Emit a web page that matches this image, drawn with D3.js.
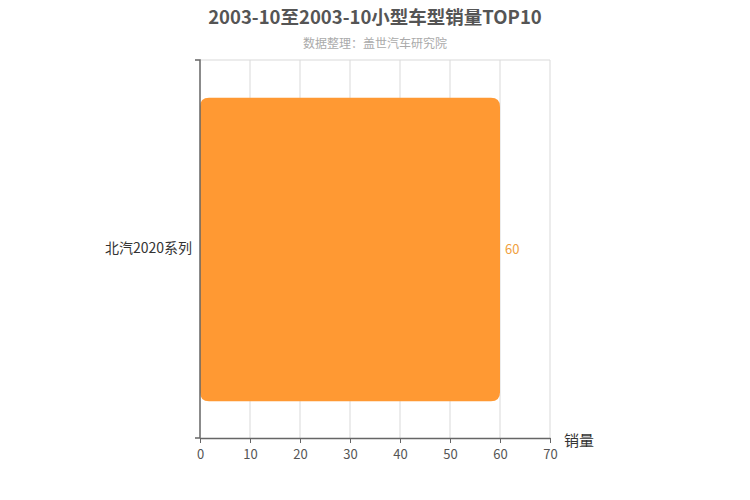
<!DOCTYPE html>
<html>
<head>
<meta charset="utf-8">
<script src="https://cdn.jsdelivr.net/npm/d3@7"></script>
<style>
  body { margin: 0; background: #fff; }
  text { font-family: "Microsoft YaHei", "Noto Sans CJK SC", sans-serif; }
</style>
</head>
<body>
<svg id="chart" width="750" height="500"></svg>
<script>
const categories = ["北汽2020系列"];
const sales = [60];
const xTicks = [0, 10, 20, 30, 40, 50, 60, 70];
const titleText = "2003-10至2003-10小型车型销量TOP10";
const subText = "数据整理：盖世汽车研究院";

const margin = { top: 60, right: 200, bottom: 62, left: 200 };
const width = 750, height = 500;
const innerW = width - margin.left - margin.right;
const innerH = height - margin.top - margin.bottom;

const svg = d3.select("#chart");

svg.append("text")
  .attr("x", 375).attr("y", 24)
  .attr("text-anchor", "middle")
  .attr("font-size", 18.5).attr("font-weight", "bold")
  .attr("fill", "#555")
  .text(titleText);

svg.append("text")
  .attr("x", 375).attr("y", 48)
  .attr("text-anchor", "middle")
  .attr("font-size", 12)
  .attr("fill", "#aaa")
  .text(subText);

const g = svg.append("g").attr("transform", `translate(${margin.left},${margin.top})`);

const x = d3.scaleLinear().domain([0, 70]).range([0, innerW]);
const y = d3.scaleBand().domain(categories).range([0, innerH]).paddingInner(0.2).paddingOuter(0.1);

// grid
g.append("g")
  .selectAll("line")
  .data(xTicks.slice(1))
  .join("line")
  .attr("x1", d => x(d)).attr("x2", d => x(d))
  .attr("y1", 0).attr("y2", innerH)
  .attr("stroke", "#d9d9d9");
g.append("line")
  .attr("x1", 0).attr("x2", innerW)
  .attr("y1", 0).attr("y2", 0)
  .attr("stroke", "#d9d9d9");

// bars
g.selectAll(".bar")
  .data(sales)
  .join("path")
  .attr("class", "bar")
  .attr("fill", "#ff9933")
  .attr("d", (d, i) => {
    const x0 = x(0), x1 = x(d), y0 = y(categories[i]), h = y.bandwidth() + 1, r = 9;
    return `M${x0},${y0 + r}Q${x0},${y0} ${x0 + r},${y0}L${x1 - r},${y0}Q${x1},${y0} ${x1},${y0 + r}` +
      `L${x1},${y0 + h - r}Q${x1},${y0 + h} ${x1 - r},${y0 + h}L${x0 + r},${y0 + h}Q${x0},${y0 + h} ${x0},${y0 + h - r}Z`;
  });

// value labels
g.selectAll(".val")
  .data(sales)
  .join("text")
  .attr("class", "val")
  .attr("x", d => x(d) + 5)
  .attr("y", (d, i) => y(categories[i]) + y.bandwidth() / 2)
  .attr("dy", "0.35em")
  .attr("font-size", 13)
  .attr("fill", "#f0a040")
  .text(d => d);

// x axis
const xAxis = g.append("g")
  .attr("transform", `translate(0,${innerH})`)
  .call(d3.axisBottom(x).tickValues(xTicks).tickSize(5).tickSizeOuter(0));
xAxis.select(".domain").attr("stroke", "#666").attr("stroke-width", 1.5);
xAxis.selectAll(".tick line").attr("stroke", "#666");
xAxis.selectAll(".tick text").attr("fill", "#555").attr("font-size", 13)
  .attr("font-family", "\"Noto Sans CJK SC\", sans-serif").attr("dy", "1em");

// y axis
const yAxis = g.append("g")
  .call(d3.axisLeft(y).tickSize(0).tickPadding(8));
yAxis.select(".domain").attr("stroke", "#666").attr("stroke-width", 1.5)
  .attr("d", `M-5,0H0V${innerH}H-5`);
yAxis.selectAll(".tick text").attr("fill", "#333").attr("font-size", 14)
  .attr("font-family", "\"Noto Sans CJK SC\", sans-serif");

svg.append("text")
  .attr("x", margin.left + innerW + 14).attr("y", margin.top + innerH + 8)
  .attr("font-size", 15).attr("fill", "#333")
  .text("销量");
</script>
</body>
</html>
